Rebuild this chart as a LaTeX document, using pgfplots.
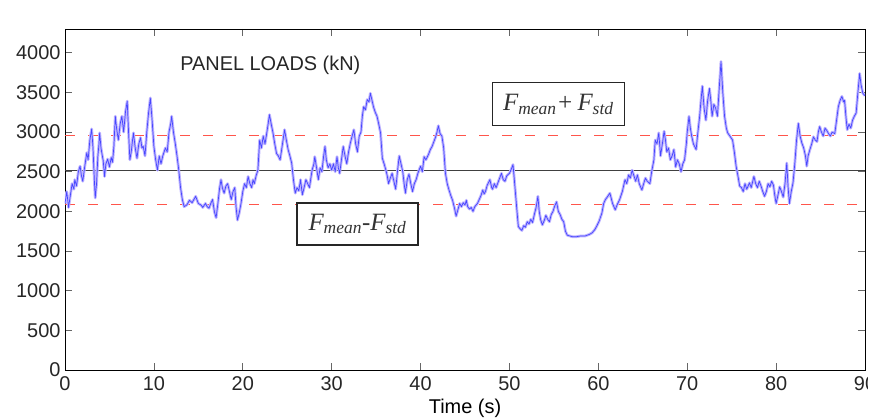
\documentclass[border=0pt]{standalone}
\usepackage{fontspec}
\setmainfont{Liberation Sans}
\newfontfamily\tms{Liberation Serif}
\usepackage{pgfplots}
\pgfplotsset{compat=1.18}
\usepackage{pgfplotstable}

\definecolor{halo}{RGB}{190,180,255}
\definecolor{core}{RGB}{70,70,255}
\definecolor{dashred}{RGB}{255,85,75}

% panel load time history
\pgfplotstableread{
t y
0.0 2100
0.2 2250
0.4 2050
0.6 2200
0.8 2350
1.0 2280
1.1 2400
1.3 2320
1.5 2500
1.7 2570
1.85 2450
2.0 2380
2.2 2550
2.45 2740
2.6 2650
2.8 2900
3.0 3040
3.15 2800
3.3 2400
3.4 2170
3.55 2350
3.7 2700
3.8 2820
3.9 2990
4.05 2800
4.2 2700
4.3 2640
4.45 2440
4.6 2600
4.8 2660
5.0 2560
5.2 2680
5.35 2620
5.5 2820
5.66 3200
5.8 3050
6.0 2900
6.2 3100
6.4 3200
6.6 3000
6.8 3250
7.0 3390
7.15 3000
7.3 2650
7.45 2750
7.6 2900
7.7 2990
7.9 2800
8.1 2670
8.3 2850
8.5 2930
8.65 2800
8.8 2820
9.0 2700
9.2 3000
9.4 3240
9.6 3430
9.8 3150
10.0 2820
10.2 2650
10.4 2520
10.6 2700
10.8 2600
11.0 2700
11.3 2800
11.5 2750
11.7 3000
11.9 3110
12.0 3200
12.2 3000
12.4 2860
12.6 2700
12.8 2520
13.0 2300
13.2 2150
13.4 2060
13.7 2080
14.0 2140
14.3 2110
14.7 2190
15.0 2100
15.3 2080
15.5 2050
15.8 2100
16.0 2060
16.2 2040
16.4 2100
16.6 2150
16.8 2000
17.0 1920
17.2 2100
17.4 2300
17.55 2400
17.7 2300
17.9 2230
18.1 2320
18.3 2350
18.5 2250
18.7 2150
18.9 2250
19.1 2300
19.25 2050
19.4 1890
19.6 1980
19.8 2100
20.0 2250
20.2 2350
20.4 2300
20.6 2440
20.8 2350
21.0 2300
21.15 2400
21.3 2350
21.5 2450
21.7 2520
21.9 2900
22.1 2800
22.3 2950
22.5 2850
22.7 2990
22.85 3100
23.0 3220
23.2 3100
23.4 2990
23.6 2850
23.8 2730
24.0 2700
24.2 2650
24.4 2800
24.7 3030
24.9 2900
25.1 2780
25.3 2700
25.5 2610
25.7 2400
25.9 2230
26.1 2300
26.3 2260
26.5 2400
26.7 2210
26.9 2300
27.1 2400
27.3 2350
27.5 2300
27.7 2450
27.8 2520
28.0 2600
28.1 2690
28.3 2550
28.5 2400
28.7 2550
28.9 2500
29.1 2700
29.25 2820
29.4 2650
29.6 2550
29.8 2600
30.0 2520
30.2 2600
30.4 2500
30.6 2690
30.75 2550
30.9 2480
31.1 2650
31.3 2820
31.5 2700
31.7 2600
31.9 2750
32.1 2860
32.3 2950
32.5 3030
32.7 2850
32.9 2750
33.1 2950
33.3 3000
33.45 3200
33.6 3320
33.8 3280
34.0 3410
34.2 3380
34.35 3490
34.5 3420
34.7 3320
34.9 3250
35.1 3200
35.3 3100
35.5 2990
35.7 2670
35.9 2600
36.1 2520
36.25 2450
36.4 2350
36.6 2420
36.8 2480
37.0 2380
37.2 2280
37.4 2500
37.6 2700
37.8 2600
38.0 2500
38.15 2350
38.3 2230
38.5 2400
38.7 2470
38.9 2350
39.1 2250
39.3 2350
39.5 2400
39.7 2480
40.0 2570
40.2 2500
40.4 2690
40.6 2650
40.9 2720
41.1 2780
41.3 2820
41.5 2880
41.7 2940
41.85 3000
42.0 3080
42.2 2980
42.4 2950
42.6 2800
42.8 2480
43.0 2350
43.2 2270
43.4 2200
43.6 2140
43.8 2050
44.0 1940
44.2 2020
44.4 2100
44.6 2060
44.8 2110
45.0 2080
45.15 2140
45.3 2060
45.5 2030
45.7 2050
45.9 2000
46.1 2060
46.4 2100
46.6 2150
46.8 2200
47.0 2270
47.15 2220
47.3 2250
47.5 2330
47.8 2400
48.0 2300
48.1 2280
48.3 2350
48.5 2300
48.7 2360
48.9 2420
49.1 2480
49.3 2400
49.5 2380
49.7 2450
50.0 2480
50.2 2530
50.4 2590
50.55 2400
50.7 2200
50.85 2000
51.0 1810
51.2 1780
51.4 1760
51.6 1820
51.8 1800
52.0 1870
52.2 1840
52.4 1900
52.6 1860
52.8 1960
53.0 2050
53.2 2190
53.35 2000
53.5 1900
53.7 1830
53.9 1880
54.1 1950
54.3 1900
54.5 1870
54.7 1960
54.9 2000
55.1 2070
55.3 2120
55.5 2000
55.7 1960
55.9 1900
56.1 1870
56.3 1750
56.5 1700
56.8 1690
57.1 1680
57.5 1680
58.0 1690
58.5 1690
59.0 1710
59.3 1730
59.6 1770
59.8 1810
60.1 1880
60.4 1980
60.6 2100
60.8 2150
61.0 2180
61.3 2230
61.6 2100
61.9 2020
62.1 2080
62.4 2150
62.7 2250
63.0 2400
63.2 2350
63.4 2460
63.6 2420
63.8 2520
64.0 2450
64.2 2380
64.4 2460
64.6 2350
64.9 2270
65.1 2350
65.3 2420
65.5 2380
65.8 2350
66.0 2500
66.25 2650
66.4 2900
66.6 2850
66.8 2990
67.0 2700
67.2 2850
67.4 3010
67.55 2900
67.7 2750
67.9 2800
68.1 2650
68.3 2700
68.5 2780
68.7 2560
68.9 2650
69.1 2600
69.3 2500
69.5 2600
69.7 2650
69.9 2850
70.0 3000
70.2 3200
70.35 3050
70.5 2950
70.7 2850
71.0 2780
71.2 3000
71.4 3200
71.55 3400
71.7 3580
71.9 3300
72.1 3150
72.3 3400
72.5 3550
72.65 3400
72.8 3200
73.0 3350
73.2 3300
73.4 3200
73.6 3550
73.8 3890
74.0 3500
74.2 3200
74.4 3050
74.55 2990
74.8 2950
75.1 2900
75.3 2750
75.5 2570
75.7 2450
75.9 2320
76.1 2300
76.3 2250
76.5 2350
76.7 2280
77.0 2360
77.2 2300
77.5 2440
77.7 2350
77.9 2300
78.1 2380
78.3 2320
78.5 2250
78.7 2190
78.9 2250
79.1 2350
79.3 2310
79.5 2380
79.7 2330
79.85 2200
80.0 2100
80.2 2200
80.4 2310
80.6 2250
80.8 2180
81.0 2350
81.2 2610
81.35 2300
81.5 2100
81.7 2250
81.9 2360
82.1 2600
82.3 2900
82.5 3110
82.7 2950
82.9 2860
83.1 2800
83.3 2700
83.45 2570
83.6 2700
83.8 2780
84.0 2850
84.2 2940
84.4 2900
84.6 2880
84.75 3000
84.9 3070
85.1 3000
85.3 2950
85.5 3050
85.7 3020
85.9 2980
86.1 2950
86.3 3000
86.6 2980
86.8 3150
87.0 3320
87.2 3400
87.4 3450
87.6 3380
87.7 3400
87.85 3200
88.0 3030
88.2 3100
88.4 3050
88.6 3150
88.8 3200
89.0 3240
89.2 3500
89.4 3740
89.55 3600
89.75 3490
90.0 3460
}\loads

\begin{document}
\begin{tikzpicture}
\begin{axis}[
  scale only axis,
  width=800bp, height=341bp,
  xmin=0, xmax=90, ymin=0, ymax=4300,
  xtick={0,10,...,90},
  ytick={0,500,...,4000},
  tick align=inside,
  major tick length=7bp,
  every tick/.style={black!60, line width=0.6pt},
  axis line style={black, line width=0.8pt},
  /pgf/number format/1000 sep={},
  /pgf/number format/assume math mode=true,
  tick label style={font=\fontsize{20}{22}\selectfont, text=black!85},
  xticklabel style={yshift=-3bp},
  yticklabel style={xshift=-1bp},
  xlabel={Time (s)},
  xlabel style={font=\fontsize{20}{22}\selectfont, yshift=-2bp},
  clip=true,
]
\coordinate (bl) at (rel axis cs:0,0);
\coordinate (tr) at (rel axis cs:1,1);
% mean and mean +/- std
\addplot[black!75, line width=0.8pt] coordinates {(0,2520) (90,2520)};
\addplot[dashred, line width=1.3pt, dash pattern=on 10bp off 13bp] coordinates {(0,2955) (90,2955)};
\addplot[dashred, line width=1.3pt, dash pattern=on 10bp off 13bp] coordinates {(0,2087) (90,2087)};
% load signal
\addplot[halo, line width=2.8pt, line join=round] table[x=t, y=y] {\loads};
\addplot[core, line width=0.7pt, line join=round] table[x=t, y=y] {\loads};

\node[font=\fontsize{20}{22}\selectfont, text=black!85] at (axis cs:23.1,3836) {PANEL LOADS (kN)};
\node[draw=black!85, fill=white, line width=1.3pt, minimum width=132bp, minimum height=43bp,
      font=\tms\itshape\fontsize{25}{27}\selectfont, text=black!80]
  at (axis cs:55.5,3350) {F\textsubscript{mean}+\,F\textsubscript{std}};
\node[draw=black!85, fill=white, line width=1.3pt, minimum width=121bp, minimum height=42bp,
      font=\tms\itshape\fontsize{25}{27}\selectfont, text=black!80]
  at (axis cs:32.9,1842) {F\textsubscript{mean}-F\textsubscript{std}};
\end{axis}
\path (tr |- bl) coordinate (br);
\fill[white] ([xshift=3bp,yshift=-60bp]br) rectangle ([xshift=40bp,yshift=40bp]tr);
\pgfresetboundingbox
\path ([xshift=-65bp,yshift=-49bp]bl) rectangle ([xshift=27bp,yshift=29bp]tr);
\end{tikzpicture}
\end{document}
